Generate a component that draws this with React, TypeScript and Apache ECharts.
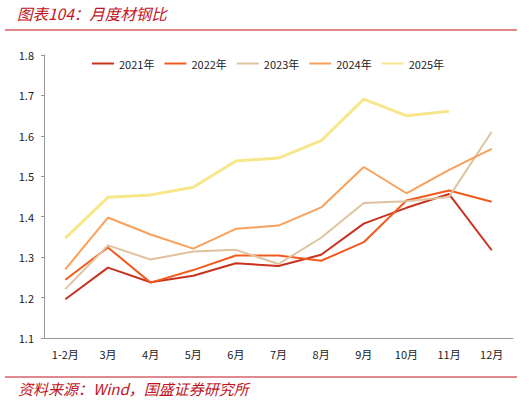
import { useEffect, useRef } from 'react';
import * as echarts from 'echarts';

const months = ['1-2月', '3月', '4月', '5月', '6月', '7月', '8月', '9月', '10月', '11月', '12月'];

const y2021 = [1.196, 1.274, 1.238, 1.254, 1.285, 1.278, 1.306, 1.383, 1.422, 1.456, 1.317];
const y2022 = [1.244, 1.324, 1.237, 1.268, 1.304, 1.304, 1.291, 1.337, 1.44, 1.465, 1.437];
const y2023 = [1.221, 1.329, 1.294, 1.314, 1.318, 1.283, 1.348, 1.434, 1.438, 1.449, 1.61];
const y2024 = [1.27, 1.398, 1.356, 1.321, 1.37, 1.378, 1.423, 1.523, 1.458, 1.516, 1.568];
const y2025 = [1.347, 1.448, 1.454, 1.473, 1.538, 1.545, 1.588, 1.691, 1.65, 1.661, null];

const seriesNames = ['2021年', '2022年', '2023年', '2024年', '2025年'];
const seriesColors = ['#c8321e', '#f25a1e', '#dfc39e', '#f9a05a', '#f7e68a'];

const FONT = '"Noto Sans CJK SC", "Noto Sans", sans-serif';
const RED = '#c0141e';

export default function App() {
  const chartRef = useRef<HTMLDivElement>(null);

  useEffect(() => {
    if (!chartRef.current) return;
    const chart = echarts.init(chartRef.current, null, { renderer: 'svg' });

    const allData = [y2021, y2022, y2023, y2024, y2025];

    const option: echarts.EChartsOption = {
      animation: false,
      backgroundColor: '#fff',
      grid: { left: 44, right: 19, top: 55, bottom: 63 },
      legend: {
        left: 87,
        top: 53,
        icon: 'rect',
        itemWidth: 22,
        itemHeight: 2,
        itemGap: 10,
        textStyle: { fontFamily: FONT, fontSize: 11, color: '#222' },
        data: seriesNames,
      },
      xAxis: {
        type: 'category',
        data: months,
        boundaryGap: true,
        axisLine: { lineStyle: { color: '#999' } },
        axisTick: { inside: true, length: 3, lineStyle: { color: '#999' } },
        axisLabel: { fontFamily: FONT, fontSize: 11, color: '#222', margin: 10 },
      },
      yAxis: {
        type: 'value',
        min: 1.1,
        max: 1.8,
        interval: 0.1,
        axisLine: { show: true, lineStyle: { color: '#999' } },
        axisTick: { show: true, length: 3, lineStyle: { color: '#999' } },
        splitLine: { show: false },
        axisLabel: {
          fontFamily: FONT,
          fontSize: 11,
          color: '#222',
          margin: 10,
          formatter: (v: number) => v.toFixed(1),
        },
      },
      series: allData.map((d, i) => ({
        name: seriesNames[i],
        type: 'line',
        data: d,
        symbol: 'none',
        color: seriesColors[i],
        lineStyle: { width: i === 4 ? 3 : 2, color: seriesColors[i] },
      })),
      graphic: [
        {
          type: 'text',
          left: 17,
          top: 5,
          style: {
            text: '图表104：月度材钢比',
            fontFamily: FONT,
            fontSize: 15.5,
            fontStyle: 'italic',
            fill: RED,
          },
        },
        {
          type: 'line',
          shape: { x1: 5, y1: 30, x2: 517, y2: 30 },
          style: { stroke: RED, lineWidth: 1 },
        },
        {
          type: 'line',
          shape: { x1: 5, y1: 377, x2: 517, y2: 377 },
          style: { stroke: RED, lineWidth: 1 },
        },
        {
          type: 'text',
          left: 18,
          top: 381,
          style: {
            text: '资料来源：Wind，国盛证券研究所',
            fontFamily: FONT,
            fontSize: 15,
            fontStyle: 'italic',
            fill: RED,
          },
        },
      ],
    };

    chart.setOption(option);
    return () => chart.dispose();
  }, []);

  return (
    <div
      ref={chartRef}
      style={{ position: 'fixed', left: 0, top: 0, width: 532, height: 401 }}
    />
  );
}
